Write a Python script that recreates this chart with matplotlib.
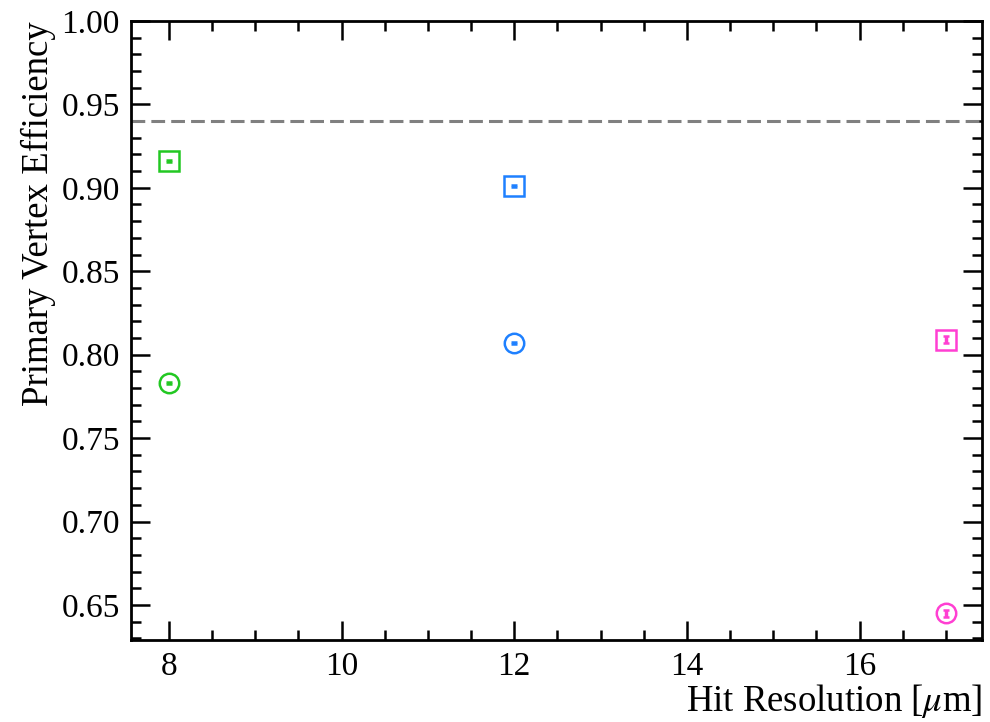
import matplotlib
matplotlib.use("Agg")
import matplotlib.pyplot as plt
from matplotlib.ticker import MultipleLocator, FormatStrFormatter

# Hit resolution scan: primary vertex efficiency for two configurations
resolution = [8, 12, 17]
eff_square = [0.916, 0.901, 0.809]
err_square = [0.0007, 0.0007, 0.0022]
eff_circle = [0.783, 0.807, 0.645]
err_circle = [0.0007, 0.0007, 0.0022]
colors = ["#22c822", "#1e80ff", "#ff3fd2"]
reference_eff = 0.94

plt.rcParams["font.family"] = ["Liberation Serif", "DejaVu Serif"]
plt.rcParams["mathtext.fontset"] = "stix"

fig = plt.figure(figsize=(9.9, 7.22), dpi=100)
ax = fig.add_axes([0.1323, 0.1136, 0.8597, 0.8574])

for x, ys, es, yc, ec, c in zip(resolution, eff_square, err_square,
                                  eff_circle, err_circle, colors):
    ax.errorbar(x, ys, yerr=es, fmt="s", ms=14.5, mfc="none", mec=c, mew=1.8,
                ecolor=c, elinewidth=2.5, capsize=2.5, capthick=2.5)
    ax.errorbar(x, yc, yerr=ec, fmt="o", ms=14, mfc="none", mec=c, mew=1.8,
                ecolor=c, elinewidth=2.5, capsize=2.5, capthick=2.5)

ax.axhline(reference_eff, color="#808080", lw=2.2, dashes=(4.5, 2))

ax.set_xlim(7.56, 17.42)
ax.set_ylim(0.629, 1.0)
ax.xaxis.set_major_locator(MultipleLocator(2))
ax.xaxis.set_minor_locator(MultipleLocator(0.5))
ax.yaxis.set_major_locator(MultipleLocator(0.05))
ax.yaxis.set_minor_locator(MultipleLocator(0.01))
ax.yaxis.set_major_formatter(FormatStrFormatter("%.2f"))

ax.tick_params(which="both", direction="in", top=True, right=True,
               labelsize=24, width=1.8, pad=8)
ax.tick_params(which="major", length=14)
ax.tick_params(which="minor", length=7)
for s in ax.spines.values():
    s.set_linewidth(2)

ax.set_xlabel(r"Hit Resolution [$\mu$m]", fontsize=26.5, loc="right", labelpad=0)
ax.set_ylabel("Primary Vertex Efficiency", fontsize=26.5, loc="top", labelpad=4)

fig.savefig("out.png", dpi=100)
